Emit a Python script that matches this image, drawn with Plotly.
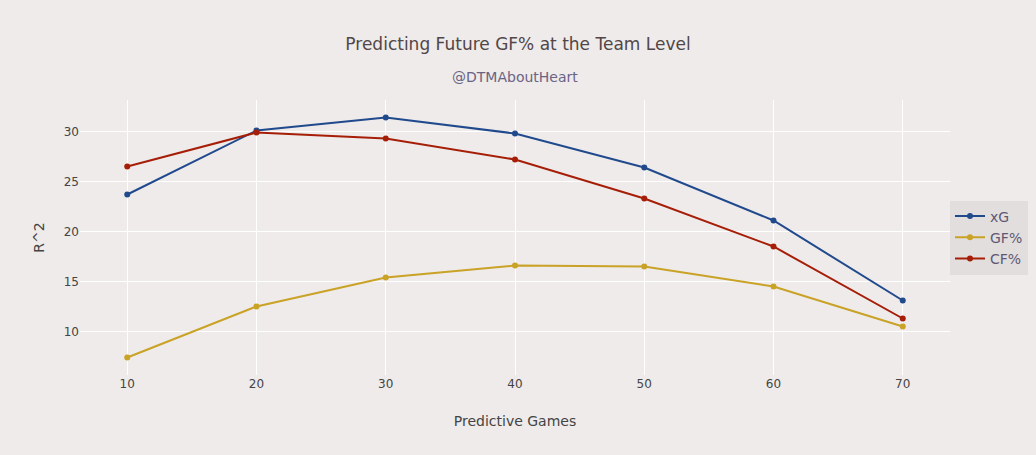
import plotly.graph_objects as go

games = [10, 20, 30, 40, 50, 60, 70]
xg = [23.7, 30.1, 31.4, 29.8, 26.4, 21.1, 13.1]
gf = [7.4, 12.5, 15.4, 16.6, 16.5, 14.5, 10.5]
cf = [26.5, 29.9, 29.3, 27.2, 23.3, 18.5, 11.3]

names = ["xG", "GF%", "CF%"]
colors = ["#214a8d", "#c9a226", "#a61e08"]
series = [xg, gf, cf]

fig = go.Figure()
for n, c, s in zip(names, colors, series):
    fig.add_trace(go.Scatter(x=games, y=s, name=n, mode="lines+markers",
                             line=dict(color=c, width=2), marker=dict(color=c, size=6)))

bg = "#eeebea"
fig.update_layout(
    width=1036, height=455,
    paper_bgcolor=bg, plot_bgcolor=bg,
    font=dict(family="DejaVu Sans, Verdana, sans-serif", color="#444444", size=12),
    title=dict(text="Predicting Future GF% at the Team Level",
               x=0.5, xanchor="center", y=1 - 44 / 455, yref="container", yanchor="middle",
               font=dict(size=17, color="#524648")),
    margin=dict(l=80, r=86, t=100, b=80, autoexpand=False),
    xaxis=dict(title=dict(text="Predictive Games", font=dict(size=14), standoff=26),
               showgrid=True,
               gridcolor="#ffffff", gridwidth=1, zeroline=False, showline=False,
               tickvals=games, ticks=""),
    yaxis=dict(title=dict(text="R^2", font=dict(size=14)), showgrid=True,
               gridcolor="#ffffff", gridwidth=1, zeroline=False, showline=False,
               dtick=5),
    legend=dict(bgcolor="#e2dedd", font=dict(size=14, color="#5e5874"),
                xref="container", x=950 / 1036, xanchor="left",
                y=0.5, yanchor="middle"),
)
fig.add_annotation(text="@DTMAboutHeart", xref="paper", yref="paper",
                   x=0.5, y=1 + (100 - 77) / 275, xanchor="center", yanchor="middle",
                   showarrow=False, font=dict(size=14, color="#6a6383"))
fig.write_html("out.html", config={"displayModeBar": False},
               post_script="document.body.style.margin='0';")
